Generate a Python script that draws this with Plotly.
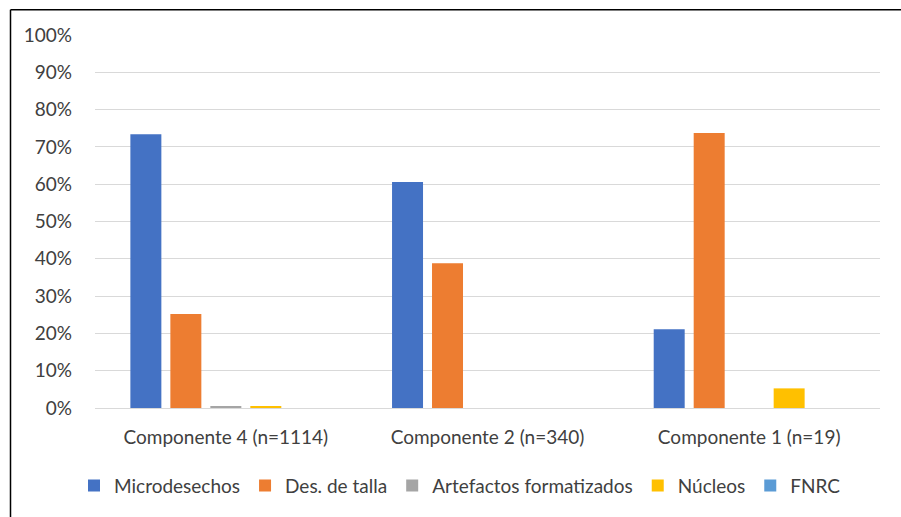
import plotly.graph_objects as go

categories = ["Componente 4 (n=1114)", "Componente 2 (n=340)", "Componente 1 (n=19)"]
series_names = ["Microdesechos", "Des. de talla", "Artefactos formatizados", "Núcleos", "FNRC"]
microdesechos = [0.734, 0.606, 0.211]
des_talla = [0.252, 0.388, 0.737]
artefactos = [0.005, 0.0, 0.0]
nucleos = [0.004, 0.0, 0.0526]
fnrc = [0.0, 0.0, 0.0]
colors = ["#4472C4", "#ED7D31", "#A5A5A5", "#FFC000", "#5B9BD5"]
y_ticks = [0, 0.1, 0.2, 0.3, 0.4, 0.5, 0.6, 0.7, 0.8, 0.9, 1.0]

values = [microdesechos, des_talla, artefactos, nucleos, fnrc]

FONT = "Lato, 'Open Sans', sans-serif"
TXT = "#404040"

fig = go.Figure()
for name, vals, col in zip(series_names, values, colors):
    fig.add_trace(go.Bar(name=name, x=categories, y=vals, marker=dict(color=col, line=dict(width=0))))

W, H = 901, 517
L, R, T, B = 95, 21, 35, 107
pw, ph = W - L - R, H - T - B

def px(x):
    return (x - L) / pw

def py(y):
    return (H - B - y) / ph

fig.update_layout(
    width=W, height=H,
    margin=dict(l=L, r=R, t=T, b=B),
    paper_bgcolor="white", plot_bgcolor="white",
    barmode="group", bargap=0.236, bargroupgap=0.225,
    font=dict(family=FONT, size=19, color=TXT),
    showlegend=True,
    legend=dict(orientation="h", x=px(460), xanchor="center", y=py(488), yanchor="middle",
                font=dict(family=FONT, size=19, color=TXT), itemwidth=30, traceorder="normal"),
    xaxis=dict(showgrid=False, showline=False, ticks="", ticklabelstandoff=16,
               tickfont=dict(size=19, color=TXT)),
    yaxis=dict(range=[0, 1], tickvals=y_ticks, tickformat=".0%", showgrid=True,
               gridcolor="#D9D9D9", gridwidth=1.2, zeroline=True, zerolinecolor="#D9D9D9",
               zerolinewidth=1.2, showline=False, ticks="", ticklabelstandoff=22,
               tickfont=dict(size=19, color=TXT)),
    shapes=[
        dict(type="line", xref="paper", yref="paper", x0=px(10.5), x1=px(W + 5), y0=py(9.5), y1=py(9.5),
             line=dict(color="black", width=1.5)),
        dict(type="line", xref="paper", yref="paper", x0=px(10.5), x1=px(10.5), y0=py(9.5), y1=py(H + 5),
             line=dict(color="black", width=1.5)),
    ],
)

fig.write_html("out.html", config={"displayModeBar": False},
               post_script="document.body.style.margin='0';document.body.style.overflow='hidden';")
